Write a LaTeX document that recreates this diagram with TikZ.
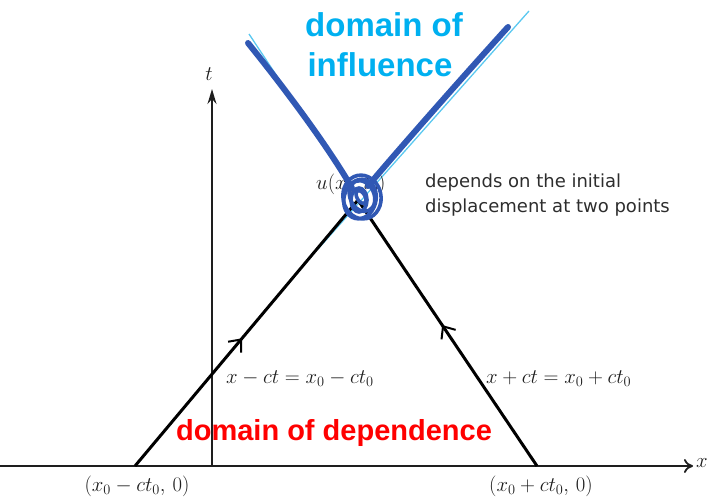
\documentclass[tikz,border=0pt]{standalone}
\usepackage{fontspec}
\newfontfamily\armsans{Liberation Sans}
\newfontfamily\dvsans{DejaVu Sans}
\usetikzlibrary{arrows.meta,decorations.markings}
\definecolor{cyantext}{RGB}{0,176,240}
\definecolor{lightln}{RGB}{90,200,240}
\definecolor{penblue}{RGB}{48,88,180}
\definecolor{notegray}{RGB}{45,45,45}
\definecolor{scan}{RGB}{30,30,30}
\tikzset{
  axis/.style={line width=1.8pt, scan},
  charline/.style={line width=3pt, black},
  midarrow/.style={postaction={decorate},decoration={markings,
     mark=at position #1 with {\arrow{Straight Barb[length=10pt,width=17pt,line width=2pt]}}}},
  mathlab/.style={inner sep=0pt, text=scan, font=\fontsize{20.5}{24}\selectfont},
  bigblue/.style={font=\armsans\bfseries\fontsize{33}{38}\selectfont, text=cyantext, inner sep=0pt},
  redlab/.style={font=\armsans\bfseries\fontsize{29}{34}\selectfont, text=red, inner sep=0pt},
  note/.style={font=\dvsans\fontsize{18}{25}\selectfont, text=notegray, inner sep=0pt, align=left},
  thinblue/.style={line width=1.3pt, lightln},
  pen/.style={line width=6pt, penblue, line cap=round},
  scrib/.style={line width=3.6pt, penblue},
}
\begin{document}
\begin{tikzpicture}[x=1pt,y=-1pt]
\useasboundingbox (0,0) rectangle (709,500);
% coordinates
\coordinate (xstart) at (0,466);
\coordinate (xend) at (693,466);
\coordinate (tstart) at (212,466);
\coordinate (tend) at (212,89);
\coordinate (A) at (135,466);
\coordinate (B) at (537,466);
\coordinate (P) at (358,200);
% thin light-blue extensions
\coordinate (cl1) at (318,249);
\coordinate (cl2) at (529,11);
\coordinate (cr1) at (394,253);
\coordinate (cr2) at (249,34);
\draw[thinblue] (cl1) -- (cl2);
\draw[thinblue] (cr1) -- (cr2);
% axes
\draw[axis,-{To[length=9pt,width=14pt]}] (xstart) -- (xend);
\draw[axis,-{Stealth[length=15pt,width=9pt,inset=5pt]}] (tstart) -- (tend);
\node[mathlab] (xlab) at (702,463) {$x$};
\node[mathlab] (tlab) at (209,74) {$t$};
% characteristic lines
\draw[charline, midarrow=0.48] (A) -- (P);
\draw[charline, midarrow=0.53] (B) -- (P);
% labels
\node[mathlab, anchor=base west] (leq) at (226,383) {$x - ct = x_0 - ct_0$};
\node[mathlab, anchor=base west] (req) at (486,383) {$x + ct = x_0 + ct_0$};
\node[mathlab] (la) at (137,486) {$(x_0 - ct_0,\,0)$};
\node[mathlab] (lb) at (541,486) {$(x_0 + ct_0,\,0)$};
\node[mathlab, anchor=base west] (u) at (316,189) {$u(x_0, t_0)$};
\node[note, anchor=base west] (dep1) at (425,187) {depends on the initial};
\node[note, anchor=base west] (dep2) at (425,212) {displacement at two points};
% blue annotations
\node[bigblue, anchor=base] (dom1) at (384,37) {domain of};
\node[bigblue, anchor=base] (dom2) at (380,77) {influence};
\node[redlab, anchor=base] (red) at (334,440) {domain of dependence};
% pen strokes
\coordinate (pl1) at (248,43);
\coordinate (pl2) at (352,188);
\coordinate (pr1) at (508,27);
\coordinate (pr2) at (368,186);
\draw[pen] (pl1) .. controls (290,95) and (330,150) .. (pl2);
\draw[pen] (pr1) .. controls (460,80) and (400,148) .. (pr2);
% scribble circle
\draw[scrib] (362,197) ellipse [x radius=19pt, y radius=22pt, rotate=12];
\draw[scrib] (360,199) ellipse [x radius=16pt, y radius=20pt, rotate=-15];
\draw[scrib] (362,196) ellipse [x radius=12pt, y radius=16pt, rotate=25];
\draw[scrib] (359,200) ellipse [x radius=8pt, y radius=12pt, rotate=0];
\draw[scrib] (361,197) ellipse [x radius=4pt, y radius=7pt, rotate=30];
\end{tikzpicture}
\end{document}
